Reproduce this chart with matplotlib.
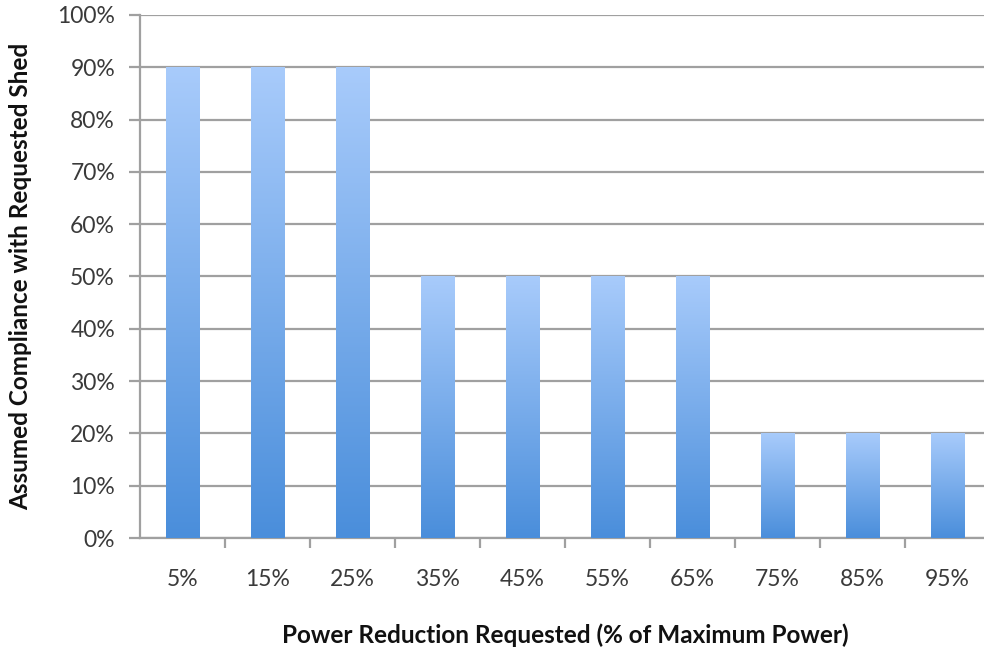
import numpy as np
import matplotlib.pyplot as plt
import matplotlib.ticker as mtick
from matplotlib.colors import LinearSegmentedColormap

categories = ['5%', '15%', '25%', '35%', '45%', '55%', '65%', '75%', '85%', '95%']
compliance = [90, 90, 90, 50, 50, 50, 50, 20, 20, 20]

plt.rcParams['font.family'] = ['Lato', 'DejaVu Sans']

fig = plt.figure(figsize=(9.84, 6.49), dpi=100)
ax = fig.add_axes([0.1423, 0.171, 0.8638, 0.806])

x = np.arange(len(categories))
bars = ax.bar(x, compliance, width=0.4, color='none', zorder=3)

# vertical gradient inside each bar: light on top, darker at the base
grad_cmap = LinearSegmentedColormap.from_list('bar_grad', ['#4a8edb', '#a8cbfb'])
grad = np.linspace(0, 1, 256).reshape(-1, 1)
for b in bars:
    x0, y0 = b.get_x(), b.get_y()
    im = ax.imshow(grad, cmap=grad_cmap, origin='lower', aspect='auto',
                   extent=[x0, x0 + b.get_width(), y0, y0 + b.get_height()],
                   zorder=3)
    im.set_clip_path(b)

ax.set_xlim(-0.5, len(categories) - 0.5)
ax.set_ylim(0, 100)
ax.yaxis.set_major_locator(mtick.MultipleLocator(10))
ax.yaxis.set_major_formatter(mtick.PercentFormatter(decimals=0))
ax.grid(axis='y', color='#a0a0a0', linewidth=1.6, zorder=0)
ax.set_axisbelow(True)

ax.set_xticks(x, categories)
ax.xaxis.set_minor_locator(mtick.FixedLocator(x[:-1] + 0.5))
ax.tick_params(axis='x', which='major', length=0, pad=22, labelsize=16.5,
               labelcolor='#3a3a3a')
ax.tick_params(axis='x', which='minor', length=7, width=1.6, color='#a0a0a0')
ax.tick_params(axis='y', length=8, width=1.6, color='#a0a0a0', pad=10,
               labelsize=16.5, labelcolor='#3a3a3a')

for side in ['top', 'right']:
    ax.spines[side].set_visible(False)
for side in ['left', 'bottom']:
    ax.spines[side].set_color('#a0a0a0')
    ax.spines[side].set_linewidth(1.6)

ax.set_xlabel('Power Reduction Requested (% of Maximum Power)',
              fontsize=17.5, fontweight='bold', labelpad=24, color='#111111')
ax.set_ylabel('Assumed Compliance with Requested Shed',
              fontsize=17.5, fontweight='bold', labelpad=18, color='#111111')

fig.savefig('out.png', dpi=100)
